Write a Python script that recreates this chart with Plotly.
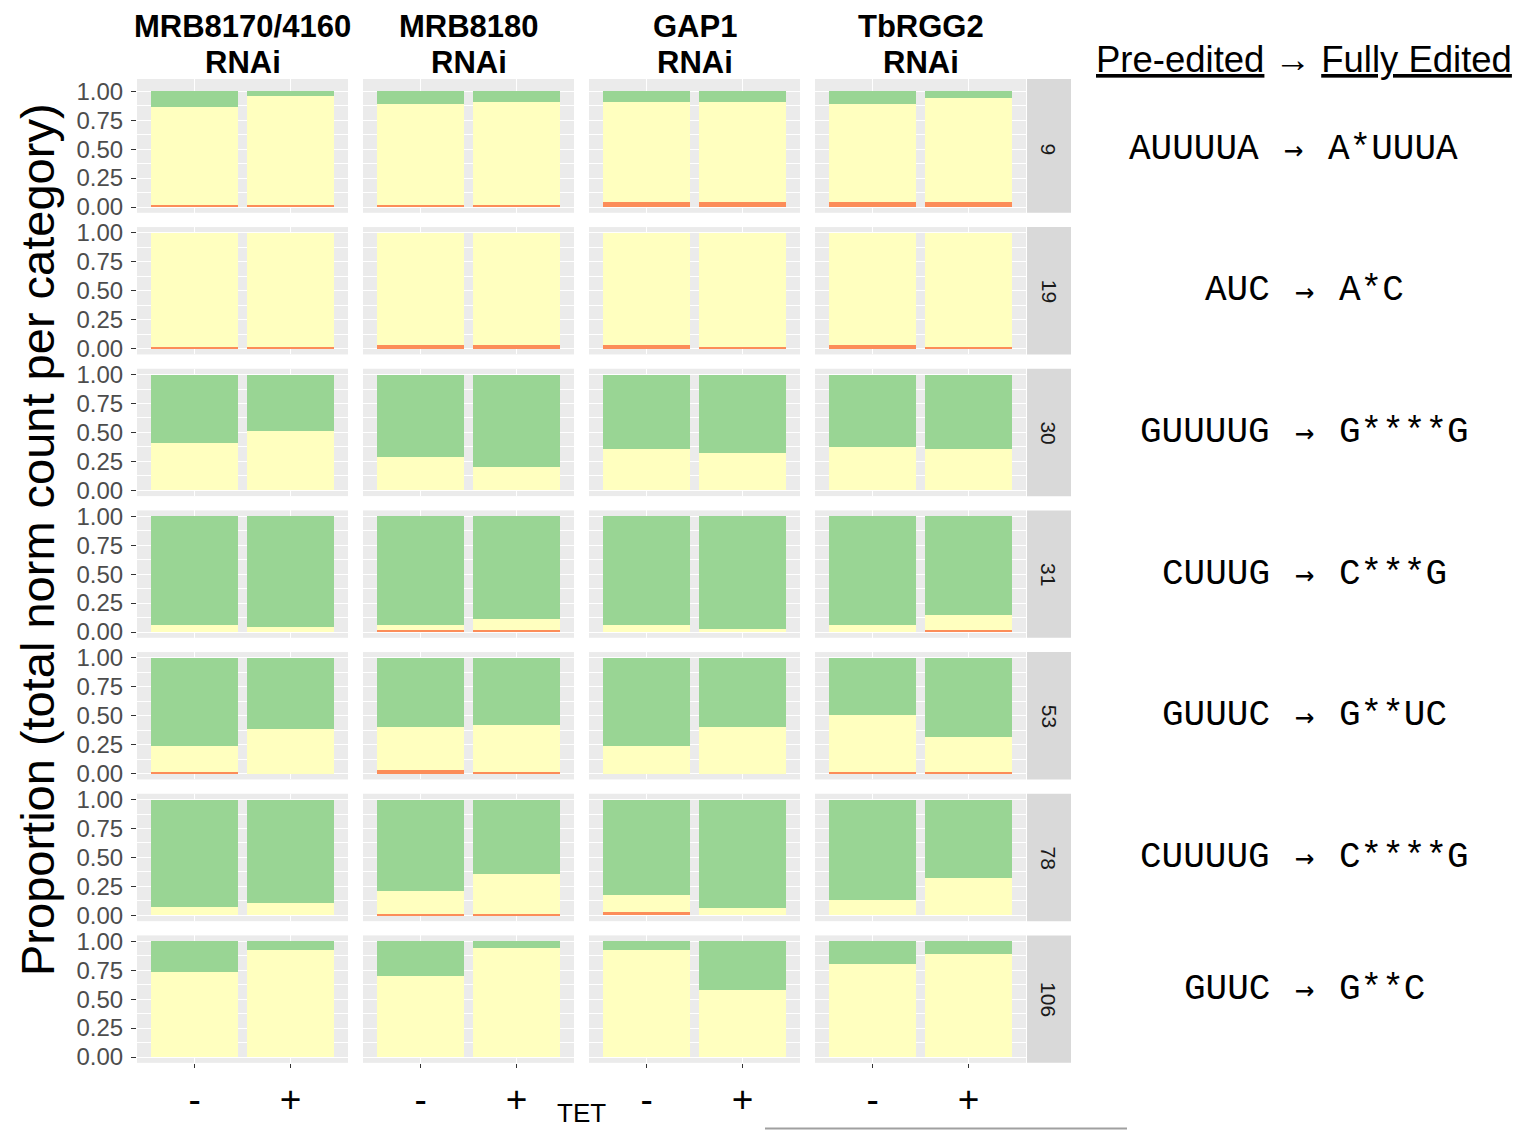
import plotly.graph_objects as go

# ---------------- data ----------------
gene_names = ["MRB8170/4160", "MRB8180", "GAP1", "TbRGG2"]
gene_suffix = "RNAi"
sites = ["9", "19", "30", "31", "53", "78", "106"]
tet = ["-", "+"]
pre_edited_seq = ["AUUUUA", "AUC", "GUUUUG", "CUUUG", "GUUUC", "CUUUUG", "GUUC"]
fully_edited_seq = ["A*UUUA", "A*C", "G****G", "C***G", "G**UC", "C****G", "G**C"]
y_tick_vals = [0, 0.25, 0.5, 0.75, 1.0]
y_tick_text = ["0.00", "0.25", "0.50", "0.75", "1.00"]

# per site: [gene1 -, gene1 +, gene2 -, gene2 +, gene3 -, gene3 +, gene4 -, gene4 +]
other_vals = [
    [0.015, 0.015, 0.015, 0.015, 0.045, 0.045, 0.045, 0.045],
    [0.015, 0.015, 0.030, 0.030, 0.030, 0.012, 0.030, 0.012],
    [0.0, 0.0, 0.0, 0.0, 0.0, 0.0, 0.0, 0.0],
    [0.0, 0.0, 0.017, 0.017, 0.0, 0.0, 0.0, 0.015],
    [0.015, 0.0, 0.035, 0.015, 0.0, 0.0, 0.015, 0.015],
    [0.0, 0.0, 0.015, 0.015, 0.030, 0.0, 0.0, 0.0],
    [0.0, 0.0, 0.0, 0.0, 0.0, 0.0, 0.0, 0.0],
]
pre_vals = [
    [0.845, 0.945, 0.875, 0.895, 0.865, 0.865, 0.845, 0.895],
    [0.985, 0.985, 0.970, 0.970, 0.970, 0.988, 0.970, 0.988],
    [0.405, 0.510, 0.285, 0.200, 0.355, 0.320, 0.370, 0.355],
    [0.060, 0.043, 0.043, 0.093, 0.060, 0.026, 0.060, 0.130],
    [0.220, 0.385, 0.365, 0.405, 0.237, 0.400, 0.495, 0.305],
    [0.070, 0.110, 0.195, 0.340, 0.150, 0.065, 0.130, 0.320],
    [0.730, 0.920, 0.700, 0.940, 0.920, 0.580, 0.800, 0.890],
]
full_vals = [
    [0.140, 0.040, 0.110, 0.090, 0.090, 0.090, 0.110, 0.060],
    [0.0, 0.0, 0.0, 0.0, 0.0, 0.0, 0.0, 0.0],
    [0.595, 0.490, 0.715, 0.800, 0.645, 0.680, 0.630, 0.645],
    [0.940, 0.957, 0.940, 0.890, 0.940, 0.974, 0.940, 0.855],
    [0.765, 0.615, 0.600, 0.580, 0.763, 0.600, 0.490, 0.680],
    [0.930, 0.890, 0.790, 0.645, 0.820, 0.935, 0.870, 0.680],
    [0.270, 0.080, 0.300, 0.060, 0.080, 0.420, 0.200, 0.110],
]

series = [
    ("Other", other_vals, "#FC8D59"),
    ("Pre-edited", pre_vals, "#FFFFBF"),
    ("Fully edited", full_vals, "#99D594"),
]

# ---------------- layout helpers ----------------
W, H = 1518, 1130


def px(x):
    return x / W


def py(y):
    return 1 - y / H


col_left = [137, 363, 589, 815]
col_w = 211
row_zero = [207 + i * 141.67 for i in range(len(sites))]
unit = 115.8

SANS = "Liberation Sans, Arial, sans-serif"
MONO = "Liberation Mono, monospace"


def ann(text, x, y, size, family=SANS, xanchor="center", yanchor="middle", angle=0, color="black"):
    return dict(text=text, x=px(x), y=py(y), xref="paper", yref="paper",
                xanchor=xanchor, yanchor=yanchor, showarrow=False, textangle=angle,
                font=dict(family=family, size=size, color=color))


fig = go.Figure()
layout = {}
shapes = []
annotations = []

for r, site in enumerate(sites):
    z = row_zero[r]
    bottom_px = z + 0.05 * unit
    top_px = 79 if r == 0 else z - 1.05 * unit
    y_top_val = (z - top_px) / unit
    for c in range(len(gene_names)):
        n = r * len(gene_names) + c + 1
        xa = "x" if n == 1 else f"x{n}"
        ya = "y" if n == 1 else f"y{n}"
        for name, vals, color in series:
            fig.add_trace(go.Bar(
                x=tet, y=[vals[r][2 * c], vals[r][2 * c + 1]],
                name=name, marker=dict(color=color, line=dict(width=0)),
                xaxis=xa, yaxis=ya, showlegend=False,
            ))
        xkey = "xaxis" if n == 1 else f"xaxis{n}"
        ykey = "yaxis" if n == 1 else f"yaxis{n}"
        bottom_row = r == len(sites) - 1
        layout[xkey] = dict(
            domain=[px(col_left[c]), px(col_left[c] + col_w)],
            anchor=ya, type="category", categoryorder="array", categoryarray=tet,
            range=[-0.6, 1.6], showgrid=True, gridcolor="white", gridwidth=1.1,
            zeroline=False, showline=False, automargin=False,
            showticklabels=bottom_row, ticks="outside" if bottom_row else "",
            ticklen=4, tickwidth=1.1, tickcolor="#333333",
            tickfont=dict(family=SANS, size=37, color="black"),
            fixedrange=True,
        )
        first_col = c == 0
        layout[ykey] = dict(
            domain=[py(bottom_px), py(top_px)],
            anchor=xa, range=[-0.05, y_top_val],
            tickmode="array", tickvals=y_tick_vals, ticktext=y_tick_text,
            showgrid=True, gridcolor="white", gridwidth=1.1,
            minor=dict(tickmode="array", tickvals=[0.125, 0.375, 0.625, 0.875],
                       showgrid=True, gridcolor="white", gridwidth=0.55, ticks=""),
            zeroline=False, showline=False, automargin=False,
            showticklabels=first_col, ticks="outside" if first_col else "",
            ticklen=5, tickwidth=1.1, tickcolor="#333333", ticklabelstandoff=3,
            tickfont=dict(family=SANS, size=24, color="#4D4D4D"),
            fixedrange=True,
        )
    # strip on the right
    shapes.append(dict(type="rect", xref="paper", yref="paper",
                       x0=px(1027), x1=px(1071), y0=py(bottom_px), y1=py(top_px),
                       fillcolor="#D9D9D9", line=dict(width=0), layer="below"))
    mid = (bottom_px + top_px) / 2 if r > 0 else (bottom_px + 86) / 2
    annotations.append(ann(site, 1049, mid, 21, angle=90, color="#1A1A1A"))
    # sequence annotation
    shift = -11 if r == 0 else 0
    seq_y = mid - 10 if r == len(sites) - 1 else mid
    annotations.append(ann(pre_edited_seq[r], 1272 + shift, seq_y, 36, family=MONO, xanchor="right"))
    annotations.append(ann("→", 1304 + shift, seq_y, 32, family="DejaVu Sans Mono, DejaVu Sans"))
    annotations.append(ann(fully_edited_seq[r], 1337 + shift, seq_y, 36, family=MONO, xanchor="left"))

# column headers
for c, g in enumerate(gene_names):
    cx = col_left[c] + col_w / 2
    annotations.append(ann(f"<b>{g}</b>", cx, 27, 31))
    annotations.append(ann(f"<b>{gene_suffix}</b>", cx, 62, 31))

# right header
annotations.append(ann("<u>Pre-edited</u> → <u>Fully Edited</u>", 1304, 60, 36.5))

# axis titles
annotations.append(ann("Proportion (total norm count per category)", 37, 540, 47, angle=-90))
annotations.append(ann("TET", 581, 1113, 26))

# thin line at bottom
shapes.append(dict(type="line", xref="paper", yref="paper", x0=px(765), x1=px(1127),
                   y0=py(1128.5), y1=py(1128.5), line=dict(color="#A0A0A0", width=2)))

fig.update_layout(
    **layout,
    barmode="stack", bargap=0.1,
    width=W, height=H, autosize=False,
    margin=dict(l=0, r=0, t=0, b=0, pad=0, autoexpand=False),
    plot_bgcolor="#EBEBEB", paper_bgcolor="white",
    shapes=shapes, annotations=annotations,
    showlegend=False,
)

fig.write_html(
    "out.html",
    config={"displayModeBar": False},
    post_script="document.body.style.margin='0';document.body.style.overflow='hidden';"
                "document.documentElement.style.overflow='hidden';",
)
